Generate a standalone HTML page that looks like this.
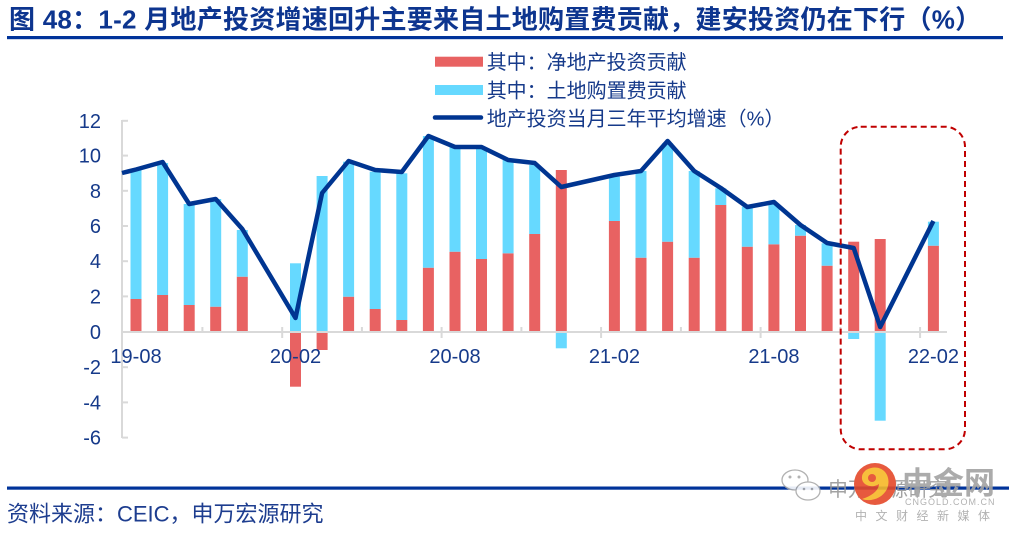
<!DOCTYPE html>
<html><head><meta charset="utf-8"><style>
html,body{margin:0;padding:0;background:#fff;}
svg{display:block;}
text{font-family:"Liberation Sans","Noto Sans CJK SC",sans-serif;}
</style></head><body>
<svg width="1009" height="533" viewBox="0 0 1009 533" xmlns="http://www.w3.org/2000/svg">
<rect width="1009" height="533" fill="#fff"/>
<text x="9" y="28.5" font-size="26" font-weight="bold" fill="#0d358f" letter-spacing="0.25">图 48：1-2 月地产投资增速回升主要来自土地购置费贡献，建安投资仍在下行（%）</text>
<rect x="7" y="36" width="996" height="3.2" fill="#00339a"/>
<rect x="435" y="56.7" width="48" height="10" fill="#e86262"/>
<text x="486.7" y="69" font-size="20" fill="#163a8a">其中：净地产投资贡献</text>
<rect x="435" y="85" width="48" height="10" fill="#66d9ff"/>
<text x="486.7" y="97.5" font-size="20" fill="#163a8a">其中：土地购置费贡献</text>
<line x1="435" y1="117.5" x2="481" y2="117.5" stroke="#003591" stroke-width="4.5" stroke-linecap="round"/>
<text x="486.7" y="125.5" font-size="20" fill="#163a8a">地产投资当月三年平均增速（%）</text>
<g stroke="#d9d9d9" stroke-width="2">
<line x1="122" y1="120" x2="122" y2="438"/>
<line x1="122" y1="120.8" x2="128" y2="120.8"/>
<line x1="122" y1="155.6" x2="128" y2="155.6"/>
<line x1="122" y1="190.8" x2="128" y2="190.8"/>
<line x1="122" y1="226" x2="128" y2="226"/>
<line x1="122" y1="261.2" x2="128" y2="261.2"/>
<line x1="122" y1="296.4" x2="128" y2="296.4"/>
<line x1="122" y1="367.2" x2="128" y2="367.2"/>
<line x1="122" y1="402.4" x2="128" y2="402.4"/>
<line x1="122" y1="437.6" x2="128" y2="437.6"/>
</g>
<g font-size="20" fill="#163a8a" text-anchor="end">
<text x="101" y="127.8">12</text>
<text x="101" y="162.6">10</text>
<text x="101" y="197.8">8</text>
<text x="101" y="233">6</text>
<text x="101" y="268.2">4</text>
<text x="101" y="303.4">2</text>
<text x="101" y="339">0</text>
<text x="101" y="374.2">-2</text>
<text x="101" y="409.4">-4</text>
<text x="101" y="444.6">-6</text>
</g>
<g>
<rect x="130.5" y="299" width="11" height="33" fill="#e86262"/><rect x="130.5" y="170" width="11" height="129" fill="#66d9ff"/>
<rect x="157.1" y="295" width="11" height="37" fill="#e86262"/><rect x="157.1" y="163" width="11" height="132" fill="#66d9ff"/>
<rect x="183.7" y="305" width="11" height="27" fill="#e86262"/><rect x="183.7" y="204" width="11" height="101" fill="#66d9ff"/>
<rect x="210.2" y="306.7" width="11" height="25.3" fill="#e86262"/><rect x="210.2" y="199" width="11" height="107.7" fill="#66d9ff"/>
<rect x="236.8" y="276.7" width="11" height="55.3" fill="#e86262"/><rect x="236.8" y="230" width="11" height="46.7" fill="#66d9ff"/>
<rect x="290" y="263.3" width="11" height="68.7" fill="#66d9ff"/><rect x="290" y="332" width="11" height="54.7" fill="#e86262"/>
<rect x="316.6" y="176" width="11" height="156" fill="#66d9ff"/><rect x="316.6" y="332" width="11" height="18" fill="#e86262"/>
<rect x="343.1" y="296.7" width="11" height="35.3" fill="#e86262"/><rect x="343.1" y="161.7" width="11" height="135" fill="#66d9ff"/>
<rect x="369.7" y="309" width="11" height="23" fill="#e86262"/><rect x="369.7" y="171.7" width="11" height="137.3" fill="#66d9ff"/>
<rect x="396.3" y="320" width="11" height="12" fill="#e86262"/><rect x="396.3" y="173.3" width="11" height="146.7" fill="#66d9ff"/>
<rect x="422.9" y="267.7" width="11" height="64.3" fill="#e86262"/><rect x="422.9" y="136" width="11" height="131.7" fill="#66d9ff"/>
<rect x="449.5" y="251.7" width="11" height="80.3" fill="#e86262"/><rect x="449.5" y="146.7" width="11" height="105" fill="#66d9ff"/>
<rect x="476" y="259" width="11" height="73" fill="#e86262"/><rect x="476" y="148.3" width="11" height="110.7" fill="#66d9ff"/>
<rect x="502.6" y="253.3" width="11" height="78.7" fill="#e86262"/><rect x="502.6" y="160" width="11" height="93.3" fill="#66d9ff"/>
<rect x="529.2" y="234" width="11" height="98" fill="#e86262"/><rect x="529.2" y="165" width="11" height="69" fill="#66d9ff"/>
<rect x="555.8" y="170" width="11" height="162" fill="#e86262"/><rect x="555.8" y="332" width="11" height="16.3" fill="#66d9ff"/>
<rect x="608.9" y="221" width="11" height="111" fill="#e86262"/><rect x="608.9" y="176.7" width="11" height="44.3" fill="#66d9ff"/>
<rect x="635.5" y="257.7" width="11" height="74.3" fill="#e86262"/><rect x="635.5" y="171" width="11" height="86.7" fill="#66d9ff"/>
<rect x="662.1" y="241.7" width="11" height="90.3" fill="#e86262"/><rect x="662.1" y="143.3" width="11" height="98.4" fill="#66d9ff"/>
<rect x="688.7" y="257.7" width="11" height="74.3" fill="#e86262"/><rect x="688.7" y="171" width="11" height="86.7" fill="#66d9ff"/>
<rect x="715.3" y="205" width="11" height="127" fill="#e86262"/><rect x="715.3" y="188.3" width="11" height="16.7" fill="#66d9ff"/>
<rect x="741.8" y="246.7" width="11" height="85.3" fill="#e86262"/><rect x="741.8" y="206.7" width="11" height="40" fill="#66d9ff"/>
<rect x="768.4" y="244.3" width="11" height="87.7" fill="#e86262"/><rect x="768.4" y="204" width="11" height="40.3" fill="#66d9ff"/>
<rect x="795" y="235.7" width="11" height="96.3" fill="#e86262"/><rect x="795" y="225" width="11" height="10.7" fill="#66d9ff"/>
<rect x="821.6" y="265.7" width="11" height="66.3" fill="#e86262"/><rect x="821.6" y="243.3" width="11" height="22.4" fill="#66d9ff"/>
<rect x="848.2" y="241.7" width="11" height="90.3" fill="#e86262"/><rect x="848.2" y="332" width="11" height="7" fill="#66d9ff"/>
<rect x="874.7" y="239" width="11" height="93" fill="#e86262"/><rect x="874.7" y="332" width="11" height="88.7" fill="#66d9ff"/>
<rect x="927.9" y="245.7" width="11" height="86.3" fill="#e86262"/><rect x="927.9" y="221.7" width="11" height="24" fill="#66d9ff"/>
</g>
<g stroke="#d9d9d9" stroke-width="2">
<line x1="122" y1="332" x2="947" y2="332"/>
<line x1="202.4" y1="327" x2="202.4" y2="332"/>
<line x1="282.2" y1="327" x2="282.2" y2="338"/>
<line x1="361.9" y1="327" x2="361.9" y2="332"/>
<line x1="441.6" y1="327" x2="441.6" y2="338"/>
<line x1="521.4" y1="327" x2="521.4" y2="332"/>
<line x1="601.1" y1="327" x2="601.1" y2="338"/>
<line x1="680.9" y1="327" x2="680.9" y2="332"/>
<line x1="760.6" y1="327" x2="760.6" y2="338"/>
<line x1="840.4" y1="327" x2="840.4" y2="332"/>
<line x1="920.1" y1="327" x2="920.1" y2="338"/>
</g>
<g font-size="20" fill="#163a8a" text-anchor="middle">
<text x="136" y="363">19-08</text>
<text x="295.5" y="363">20-02</text>
<text x="455" y="363">20-08</text>
<text x="614.4" y="363">21-02</text>
<text x="773.9" y="363">21-08</text>
<text x="933.4" y="363">22-02</text>
</g>
<polyline fill="none" stroke="#003591" stroke-width="4.5" stroke-linejoin="round" points="122,173 136,169.5 162.6,162 189.2,204 215.7,199 242.3,229 295.5,318 322.1,193 348.6,161 375.2,170 401.8,172 428.4,136 455,147 481.5,147 508.1,160 534.7,163 561.3,187 614.4,175 641,171 667.6,141 694.2,171 720.8,188 747.3,207 773.9,202 800.5,225 827.1,243 853.7,248 880.2,327 933.4,221"/>
<rect x="840.7" y="126.7" width="124.3" height="322.6" rx="20" ry="20" fill="none" stroke="#c00000" stroke-width="2" stroke-dasharray="6 4"/>
<rect x="7" y="486.5" width="1002" height="3.2" fill="#00339a"/>
<text x="7" y="521.7" font-size="22" fill="#1d3d8f">资料来源：CEIC，申万宏源研究</text>
<g opacity="0.9">
<ellipse cx="795" cy="480" rx="13" ry="10" fill="#fff" stroke="#aaa" stroke-width="1.3"/>
<ellipse cx="808" cy="491" rx="12" ry="9" fill="#fff" stroke="#aaa" stroke-width="1.3"/>
<circle cx="790" cy="477" r="1.5" fill="#aaa"/><circle cx="799" cy="477" r="1.5" fill="#aaa"/>
<circle cx="804" cy="489" r="1.3" fill="#aaa"/><circle cx="812" cy="489" r="1.3" fill="#aaa"/>
<text x="828" y="496" font-size="20" fill="#999">申万宏源研究</text>
<circle cx="875" cy="484" r="21" fill="#e5492a"/>
<path d="M866 470 C880 462 893 474 887 489 C882 499 870 502 862 499 C872 496 879 490 879 484 C872 489 861 485 862 477 C862 474 864 472 866 470 Z" fill="#f7b928"/>
<circle cx="872" cy="478" r="4" fill="#e5492a"/>
<text x="902" y="494" font-size="31" font-weight="bold" fill="#a3a3a3">中金网</text>
<text x="905" y="505" font-size="9" fill="#aaa" letter-spacing="1">CNGOLD.COM.CN</text>
<text x="855" y="520" font-size="12" fill="#aaa" letter-spacing="8.5">中文财经新媒体</text>
</g>
</svg>
</body></html>
